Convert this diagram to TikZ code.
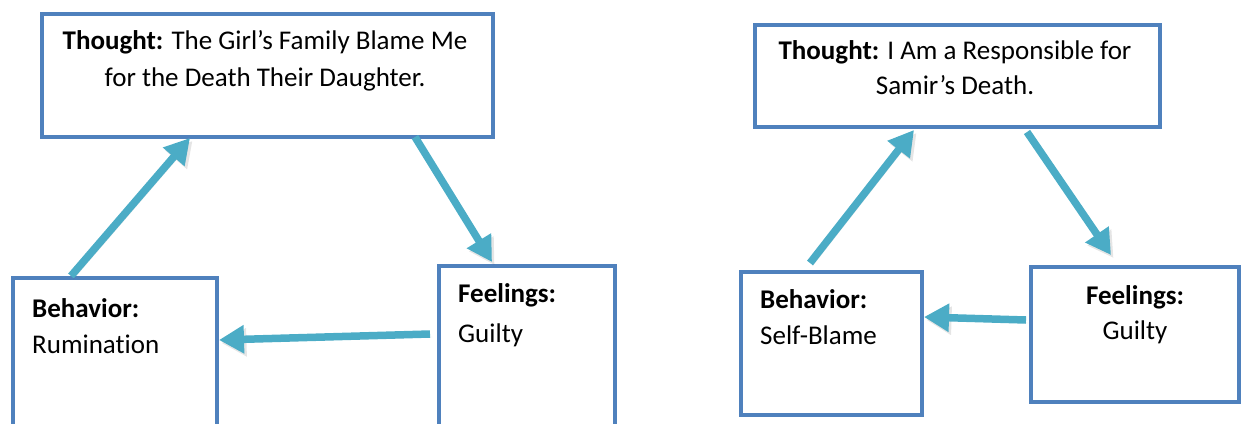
\documentclass[tikz,border=0pt]{standalone}
\usepackage{fontspec}
\setmainfont{Carlito}[Ligatures={NoCommon}]
\usetikzlibrary{arrows.meta}
\definecolor{boxblue}{HTML}{4F81BD}
\definecolor{arrowblue}{HTML}{4BACC6}
\tikzset{
  box/.style={draw=boxblue, line width=4pt, fill=none, inner sep=0pt, anchor=north west},
  txt/.style={inner sep=0pt, font=\fontsize{27}{32}\selectfont},
  flow/.style={draw=arrowblue, line width=7.5pt, -{Triangle[length=25pt,width=27pt]},
    preaction={draw=black, draw opacity=0.10, fill opacity=0.10, transform canvas={shift={(2.5pt,-3pt)}}}}
}
\begin{document}
\begin{tikzpicture}[x=1pt,y=-1pt]
\useasboundingbox (0,0) rectangle (1241,423);
\clip (0,0) rectangle (1241,423);
% ---------- left diagram ----------
\node[box, minimum width=451pt, minimum height=123pt] (t1) at (40,12) {};
\node[box, minimum width=204pt, minimum height=170pt] (b1) at (11,276) {};
\node[box, minimum width=176pt, minimum height=180pt] (f1) at (437,264) {};
\node[txt, anchor=base] (t1a) at (265,49) {\textbf{Thought:} The Girl’s Family Blame Me};
\node[txt, anchor=base] (t1b) at (265,86) {for the Death Their Daughter.};
\node[txt, anchor=base west] (b1a) at (32,317) {\textbf{Behavior:}};
\node[txt, anchor=base west] (b1b) at (32,353) {Rumination};
\node[txt, anchor=base west] (f1a) at (458,302) {\textbf{Feelings:}};
\node[txt, anchor=base west] (f1b) at (458,342) {Guilty};
\coordinate (b1s) at (71,276);
\coordinate (t1e) at (190,138);
\coordinate (t1s) at (415,137);
\coordinate (f1e) at (492,262);
\coordinate (f1s) at (430,334);
\coordinate (b1e) at (219,340);
\draw[flow] (b1s) -- (t1e);
\draw[flow] (t1s) -- (f1e);
\draw[flow] (f1s) -- (b1e);
% ---------- right diagram ----------
\node[box, minimum width=405pt, minimum height=102pt] (t2) at (753,23) {};
\node[box, minimum width=181pt, minimum height=143pt] (b2) at (739,270) {};
\node[box, minimum width=208pt, minimum height=135pt] (f2) at (1029,265) {};
\node[txt, anchor=base] (t2a) at (955,59) {\textbf{Thought:} I Am a Responsible for};
\node[txt, anchor=base] (t2b) at (955,94) {Samir’s Death.};
\node[txt, anchor=base west] (b2a) at (760,308) {\textbf{Behavior:}};
\node[txt, anchor=base west] (b2b) at (760,344) {Self-Blame};
\node[txt, anchor=base] (f2a) at (1135,304) {\textbf{Feelings:}};
\node[txt, anchor=base] (f2b) at (1135,339) {Guilty};
\coordinate (b2s) at (810,263);
\coordinate (t2e) at (914,130);
\coordinate (t2s) at (1027,132);
\coordinate (f2e) at (1111,255);
\coordinate (f2s) at (1026,320);
\coordinate (b2e) at (924,317);
\draw[flow] (b2s) -- (t2e);
\draw[flow] (t2s) -- (f2e);
\draw[flow] (f2s) -- (b2e);
\end{tikzpicture}
\end{document}
